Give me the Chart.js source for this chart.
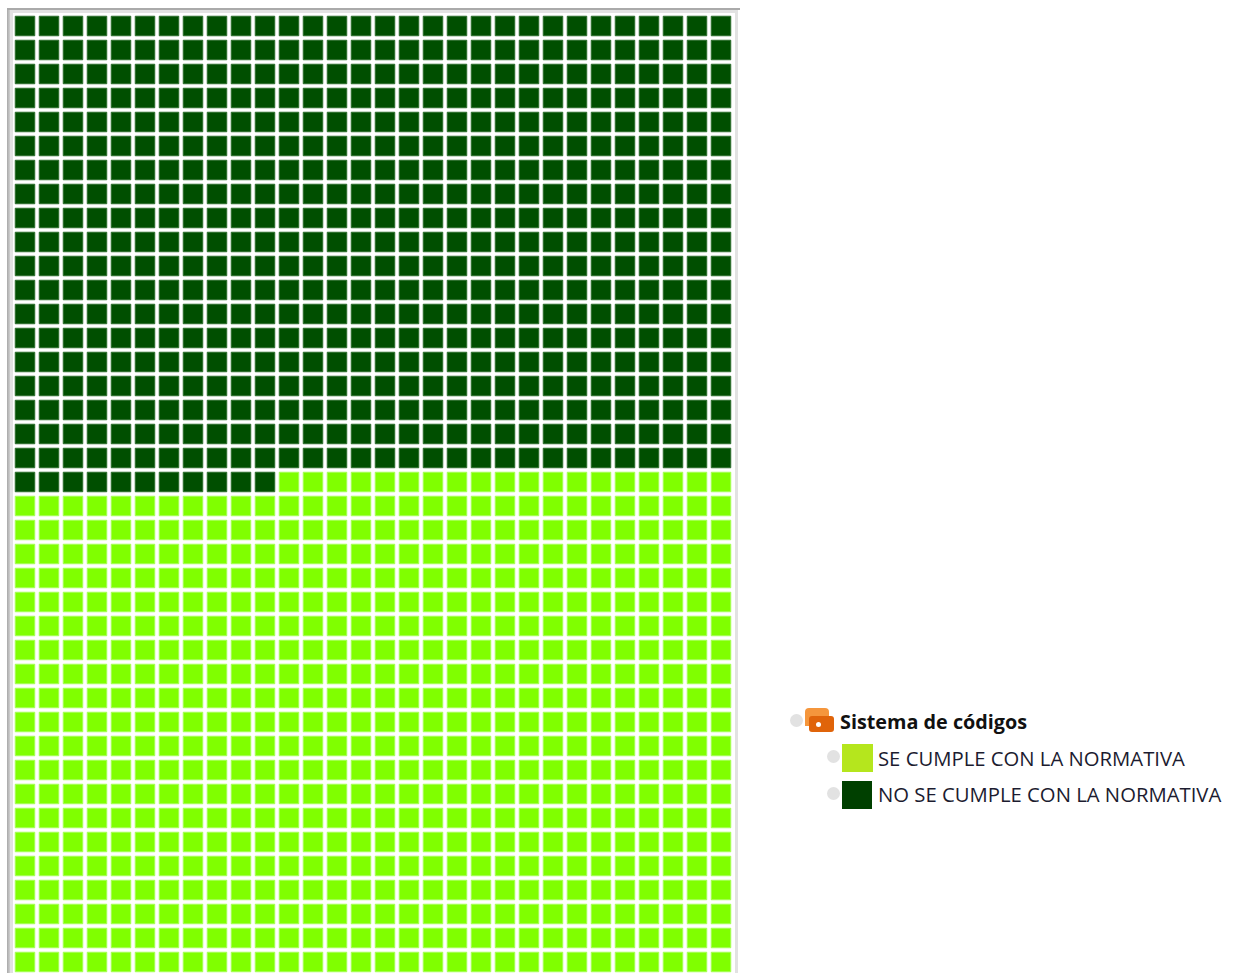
<!DOCTYPE html>
<html>
<head>
<meta charset="utf-8">
<script src="https://cdn.jsdelivr.net/npm/chart.js@4"></script>
<style>
    html, body { margin: 0; padding: 0; background: #fff; overflow: hidden; }
    #pagina { position: relative; width: 1233px; height: 973px; overflow: hidden; font-family: "Open Sans", sans-serif; }
    #marco { position: absolute; left: 7px; top: 8px; width: 733px; height: 965px; background: linear-gradient(#aaa, #aaa) top/100% 2px no-repeat, linear-gradient(90deg, #a8a8a8, #cfcfcf) left/3px 100% no-repeat; }
    #interior { position: absolute; left: 3px; top: 2px; width: 728px; height: 963px; background: #fff; border: solid #e2e2e2; border-width: 3px 3px 0 3px; box-sizing: border-box; }
    canvas { position: absolute; left: 13px; top: 14px; }
    .punto { position: absolute; width: 13px; height: 13px; border-radius: 50%; background: #e2e2e2; }
    .muestra { position: absolute; left: 842px; }
    .etiqueta { position: absolute; left: 878px; font-size: 20.3px; line-height: 28px; color: #1c1c30; white-space: nowrap; }
    #titulo { position: absolute; left: 840px; top: 708px; font-size: 19.8px; line-height: 28px; font-weight: 700; color: #111; white-space: nowrap; }
    .tag-atras { position: absolute; left: 805px; top: 708px; width: 24px; height: 18px; background: #f5963c; border-radius: 4px 4px 0 0; }
    .tag-frente { position: absolute; left: 809px; top: 716px; width: 25px; height: 16px; background: #e0640a; border-radius: 3px; }
    .tag-hueco { position: absolute; left: 816px; top: 722px; width: 5px; height: 5px; border-radius: 50%; background: #fff; }
</style>
</head>
<body>
<div id="pagina">
    <div id="marco"><div id="interior"></div></div>
    <canvas id="grafico" width="720" height="960"></canvas>
    <div class="punto" style="left:790px;top:714px"></div>
    <div class="tag-atras"></div>
    <div class="tag-frente"></div>
    <div class="tag-hueco"></div>
    <div id="titulo"></div>
    <div id="leyenda"></div>
</div>

<script>
let tituloLeyenda = 'Sistema de códigos'
let categorias = ['NO SE CUMPLE CON LA NORMATIVA', 'SE CUMPLE CON LA NORMATIVA']
let celdas = [581, 619]
let columnas = 30
let filas = 40
let coloresCelda = ['#004f00', '#80ff00']
let bordesCelda = ['#2c6f2c', '#a6ff55']

// legend order is the other way round from the fill order
let ordenLeyenda = [1, 0]
let coloresLeyenda = ['#004000', '#b5e61d']
let topLeyenda = [744, 781]

let datasets = []
let indice = 0
for (let s = 0; s < categorias.length; s++) {
    let puntos = []
    for (let i = 0; i < celdas[s]; i++) {
        puntos.push({ x: indice % columnas + 0.5, y: Math.floor(indice / columnas) + 0.5 })
        indice++
    }
    datasets.push({
        label: categorias[s],
        data: puntos,
        backgroundColor: coloresCelda[s],
        borderColor: bordesCelda[s],
        borderWidth: 1,
        pointStyle: 'rect',
        pointRadius: 13.8,
        pointHoverRadius: 13.8,
        clip: false
    })
}

new Chart(document.getElementById('grafico').getContext('2d'), {
    type: 'scatter',
    data: { datasets: datasets },
    options: {
        responsive: false,
        animation: false,
        devicePixelRatio: 1,
        layout: { padding: 0, autoPadding: false },
        plugins: {
            legend: { display: false },
            tooltip: { enabled: false }
        },
        scales: {
            x: { display: false, min: 0, max: columnas },
            y: { display: false, min: 0, max: filas, reverse: true }
        }
    }
})

document.getElementById('titulo').textContent = tituloLeyenda
let leyenda = document.getElementById('leyenda')
ordenLeyenda.forEach((s, n) => {
    let punto = document.createElement('div')
    punto.className = 'punto'
    punto.style.left = '827px'
    punto.style.top = (topLeyenda[n] + 6) + 'px'
    leyenda.appendChild(punto)

    let muestra = document.createElement('div')
    muestra.className = 'muestra'
    muestra.style.top = topLeyenda[n] + 'px'
    muestra.style.width = (n == 0 ? 31 : 30) + 'px'
    muestra.style.height = '28px'
    muestra.style.background = coloresLeyenda[s]
    leyenda.appendChild(muestra)

    let etiqueta = document.createElement('div')
    etiqueta.className = 'etiqueta'
    etiqueta.style.top = (topLeyenda[n] + (n == 0 ? 0 : -1)) + 'px'
    etiqueta.textContent = categorias[s]
    leyenda.appendChild(etiqueta)
})
</script>
</body>
</html>
